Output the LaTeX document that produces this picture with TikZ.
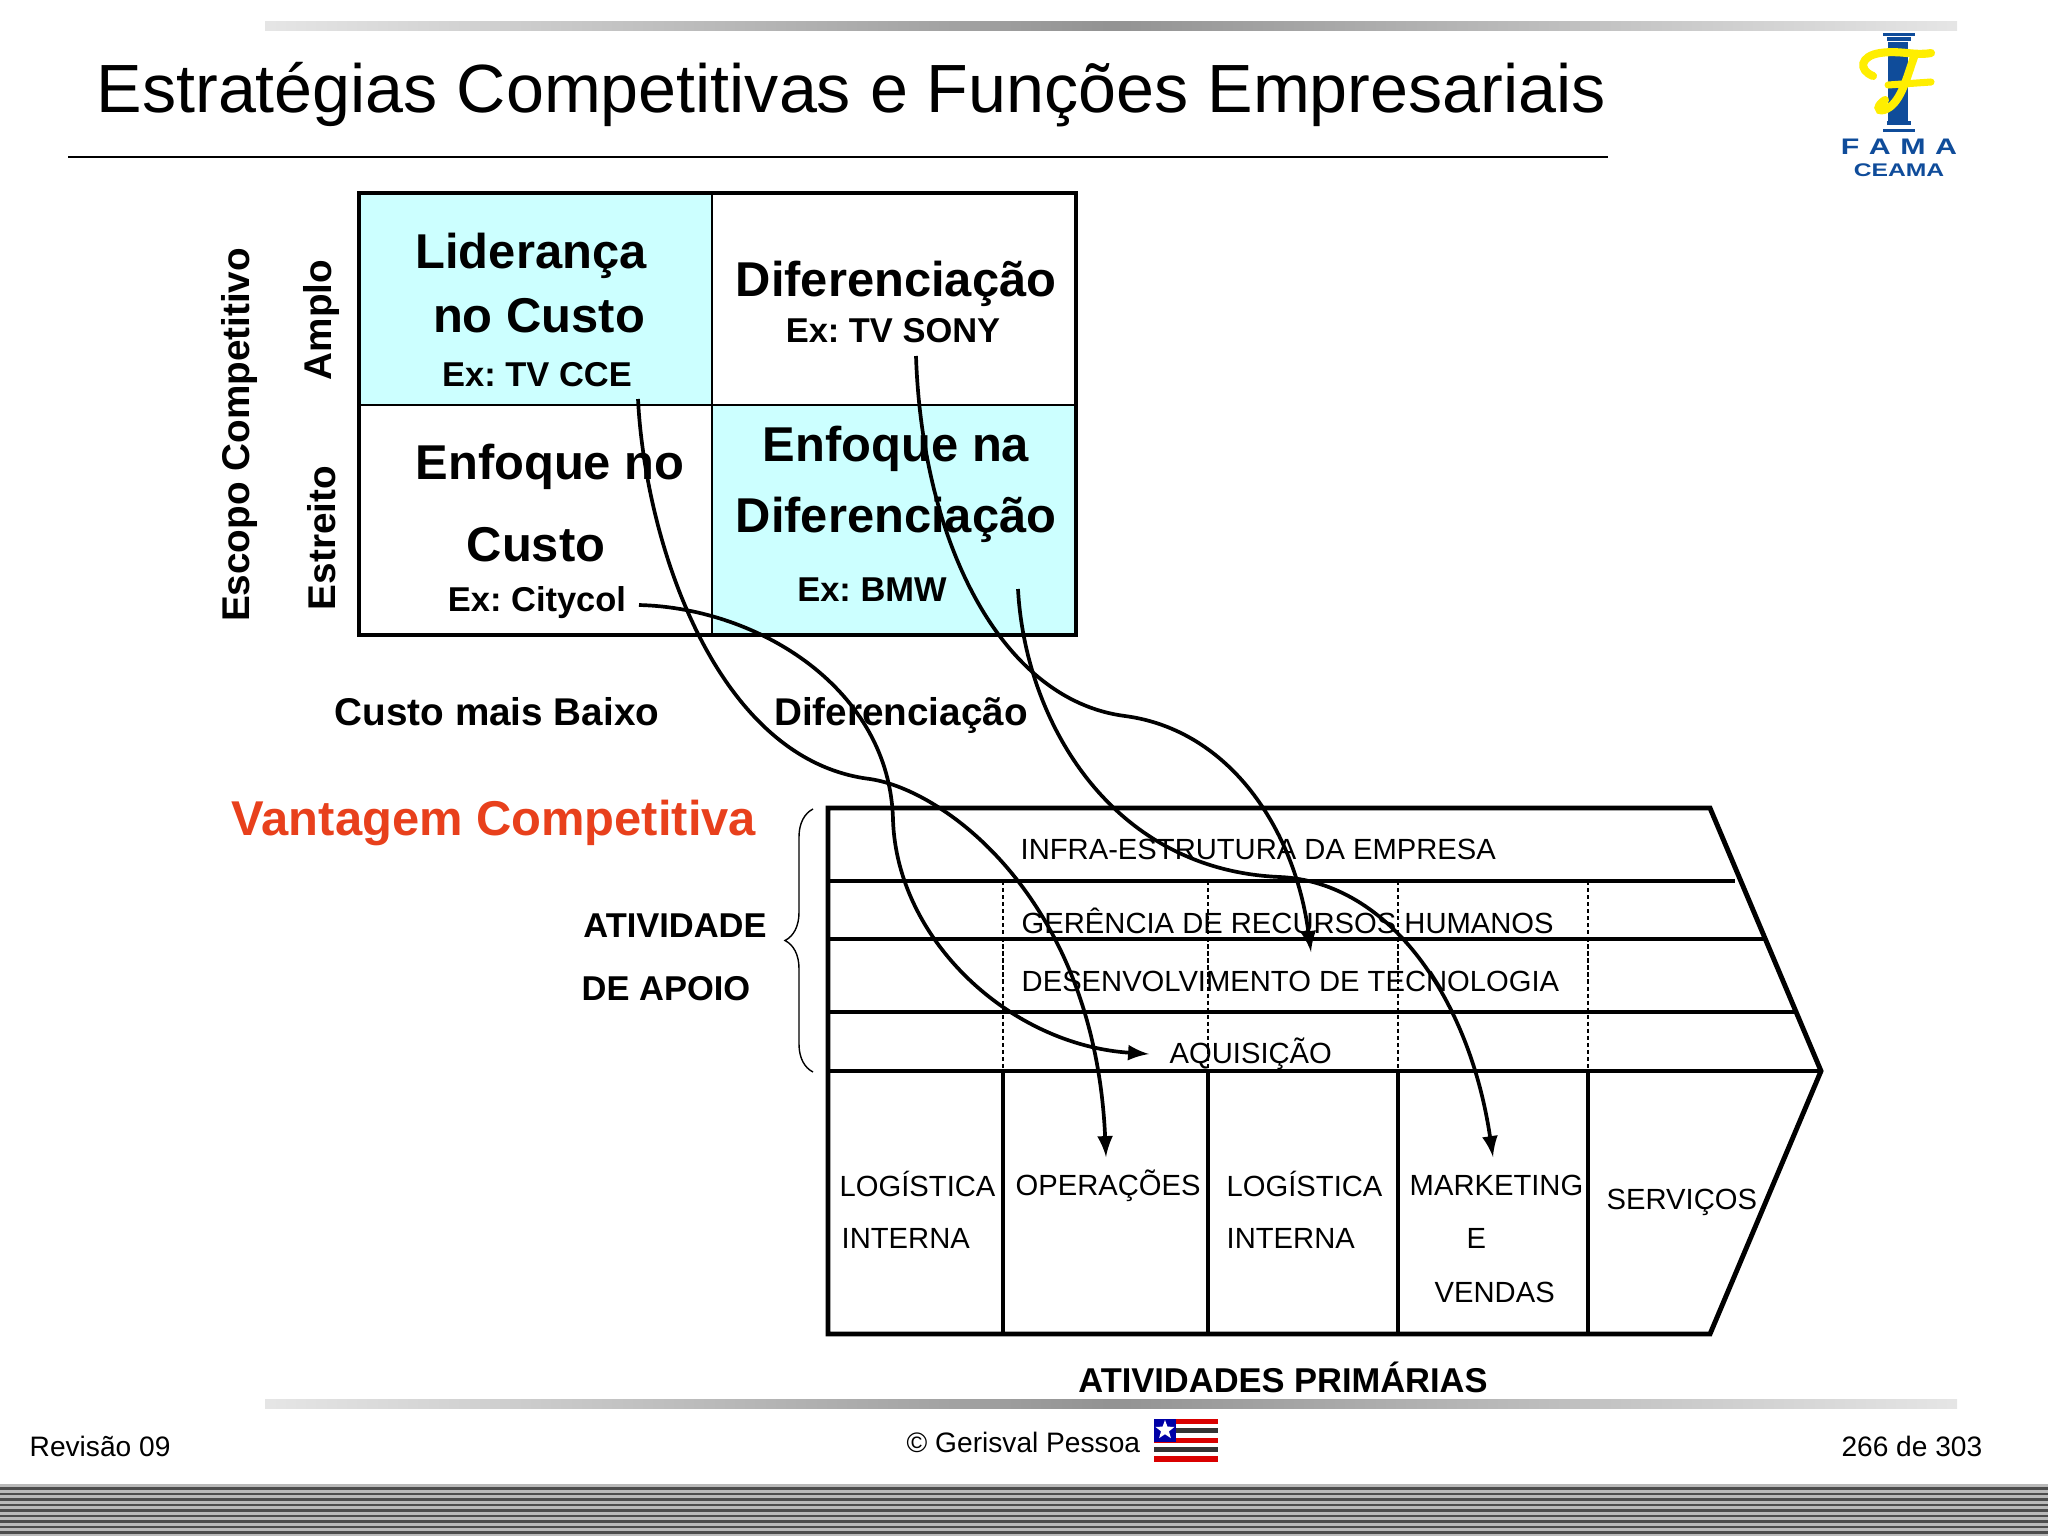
\documentclass[tikz,border=0pt]{standalone}
\usepackage{fontspec}
\setmainfont{Liberation Sans}
\newfontfamily\logofont[FakeStretch=1.35]{Liberation Sans}
\frenchspacing
\usetikzlibrary{arrows}
\usetikzlibrary{shapes.geometric}
\usetikzlibrary{decorations.pathreplacing}
\definecolor{cellcyan}{HTML}{CCFFFF}
\definecolor{famablue}{HTML}{0F4C9A}
\definecolor{famayellow}{HTML}{FFEE00}
\definecolor{vantagem}{HTML}{E8401C}
\tikzset{
  lab/.style={inner sep=0pt,font=\fontsize{#1}{#1}\selectfont\bfseries},
  act/.style={inner sep=0pt,anchor=west,font=\fontsize{8.3}{8.3}\selectfont},
  foot/.style={inner sep=0pt,font=\fontsize{8}{8}\selectfont},
  chainline/.style={line width=1.4pt},
  curva/.style={line width=1.05pt,-latex},
  greybar/.style={left color=gray!20,right color=gray!20,middle color=gray!85,draw=none},
}
\begin{document}
\begin{tikzpicture}[x=0.01cm,y=-0.01cm]
    \useasboundingbox (0,0) rectangle (2048,1536);
    % bars
    \shade[greybar] (265,21) rectangle (1957,30);
    \shade[greybar] (265,1399) rectangle (1957,1408);
    \node[inner sep=0pt,anchor=west,font=\fontsize{19.4}{19.4}\selectfont] (titulo) at (96,95) {Estratégias Competitivas e Funções Empresariais};
    \draw[line width=0.6pt] (68,157) -- (1608,157);
    % logo
    \fill[famablue] (1883,33) rectangle (1915,36);
    \fill[famablue] (1887,37) rectangle (1911,41);
    \fill[famablue] (1888,42) rectangle (1908,124);
    \fill[famablue] (1887,121) rectangle (1911,125);
    \fill[famablue] (1883,129) rectangle (1915,132);
    \draw[famayellow,line width=2.3pt,line cap=round] (1873,76) .. controls (1858,70) and (1860,56) .. (1880,53) .. controls (1900,50) and (1915,56) .. (1931,53);
    \draw[famayellow,line width=2.3pt,line cap=round] (1914,57) .. controls (1906,80) and (1900,105) .. (1884,110) .. controls (1876,112) and (1877,105) .. (1885,100);
    \draw[famayellow,line width=2pt,line cap=round] (1888,85) -- (1931,82);
    \node[inner sep=0pt,text=famablue,font=\logofont\fontsize{6.4}{6.4}\selectfont\bfseries] (fama) at (1899,147) {F\hspace{2.7pt}A\hspace{2.7pt}M\hspace{2.7pt}A};
    \node[inner sep=0pt,text=famablue,font=\logofont\fontsize{5.2}{5.2}\selectfont\bfseries] (ceama) at (1899,170) {CEAMA};
    % matriz
    \fill[cellcyan] (359,193) rectangle (712,405);
    \fill[cellcyan] (712,405) rectangle (1076,635);
    \draw[line width=0.6pt] (712,193) -- (712,635);
    \draw[line width=0.6pt] (359,405) -- (1076,405);
    \draw[line width=1.35pt] (359,193) rectangle (1076,635);
    \node[lab=13.9] (lideranca) at (531,256) {Liderança};
    \node[lab=13.9] (nocusto) at (539,316) {no Custo};
    \node[lab=9.8] (excce) at (537,375) {Ex: TV CCE};
    \node[lab=13.9] (difer) at (896,284) {Diferenciação};
    \node[lab=9.8] (exsony) at (893,331) {Ex: TV SONY};
    \node[lab=13.9] (enfno) at (550,467) {Enfoque no};
    \node[lab=13.9] (custo) at (536,545) {Custo};
    \node[lab=9.8] (excity) at (537,603) {Ex: Citycol};
    \node[lab=13.9] (enfna) at (896,449) {Enfoque na};
    \node[lab=13.9] (difena) at (896,520) {Diferenciação};
    \node[lab=9.8] (exbmw) at (872,590) {Ex: BMW};
    \node[lab=11,rotate=90] (escopo) at (239,435) {Escopo Competitivo};
    \node[lab=11,rotate=90] (amplo) at (321,320) {Amplo};
    \node[lab=11,rotate=90] (estreito) at (322,538) {Estreito};
    \node[lab=11] (custobaixo) at (497,712) {Custo mais Baixo};
    \node[lab=11] (diferbaixo) at (901,715) {Diferenciação};
    \node[lab=13.9,text=vantagem] (vantagemc) at (494,823) {Vantagem Competitiva};
    \node[lab=9.8] (atividade) at (675,926) {ATIVIDADE};
    \node[lab=9.8] (deapoio) at (666,989) {DE APOIO};
    \node[lab=9.8] (primarias) at (1283,1377) {ATIVIDADES PRIMÁRIAS};
    \draw[line width=0.4pt,decorate,decoration={brace,amplitude=0.28cm}] (813,1072) -- (813,809);
    % cadeia
    \draw[chainline] (828,808) -- (1710,808) -- (1821,1071) -- (1710,1334) -- (828,1334) -- cycle;
    \draw[chainline] (828,881) -- (1735,881);
    \draw[chainline] (828,939) -- (1766,939);
    \draw[chainline] (828,1012) -- (1795,1012);
    \draw[chainline] (828,1071) -- (1821,1071);
    \foreach \x in {1003,1208,1398,1588} {
        \draw[chainline] (\x,1071) -- (\x,1334);
        \draw[dash pattern=on 1.2pt off 0.8pt,line width=0.35pt] (\x,881) -- (\x,1071);
    }
    \node[act] (infra) at (1020,849) {INFRA-ESTRUTURA DA EMPRESA};
    \node[act] (gerencia) at (1021,921) {GERÊNCIA DE RECURSOS HUMANOS};
    \node[act] (desenv) at (1021,981) {DESENVOLVIMENTO DE TECNOLOGIA};
    \node[act] (aquisicao) at (1169,1054) {AQUISIÇÃO};
    \node[act] (logi) at (839,1184) {LOGÍSTICA};
    \node[act] (interi) at (841,1238) {INTERNA};
    \node[act] (operacoes) at (1015,1186) {OPERAÇÕES};
    \node[act] (logii) at (1226,1184) {LOGÍSTICA};
    \node[act] (interii) at (1226,1238) {INTERNA};
    \node[act] (marketing) at (1409,1185) {MARKETING};
    \node[act] (mke) at (1466,1238) {E};
    \node[act] (vendas) at (1434,1292) {VENDAS};
    \node[act] (servicos) at (1606,1202) {SERVIÇOS};
    % curvas
    \coordinate (fromcce) at (638,399);
    \coordinate (fromcity) at (639,605);
    \coordinate (fromsony) at (916,356);
    \coordinate (frombmw) at (1018,589);
    \coordinate (tooper) at (1106,1157);
    \coordinate (toaquis) at (1149,1054);
    \coordinate (togerencia) at (1311,952);
    \coordinate (tomkt) at (1493,1157);
    \draw[curva] (fromcce) .. controls (645,540) and (715,760) .. (870,779) .. controls (945,790) and (1095,900) .. (tooper);
    \draw[curva] (fromcity) .. controls (760,608) and (890,690) .. (893,820) .. controls (897,940) and (1010,1045) .. (toaquis);
    \draw[curva] (fromsony) .. controls (922,540) and (1000,700) .. (1125,716) .. controls (1230,730) and (1295,830) .. (togerencia);
    \draw[curva] (frombmw) .. controls (1025,720) and (1110,870) .. (1280,877) .. controls (1390,882) and (1470,1000) .. (tomkt);
    % rodape
    \node[foot,anchor=west] (revisao) at (29,1446) {Revisão 09};
    \node[foot,anchor=west] (autor) at (906,1442) {© Gerisval Pessoa};
    \node[foot,anchor=east] (pagina) at (1983,1446) {266 de 303};
    \fill[red!85!black] (1154,1419) rectangle (1218,1424);
    \fill[black!80] (1154,1428) rectangle (1218,1433);
    \fill[red!85!black] (1154,1438) rectangle (1218,1443);
    \fill[black!80] (1154,1447) rectangle (1218,1452);
    \fill[red!85!black] (1154,1456) rectangle (1218,1462);
    \fill[blue!65!black] (1154,1419) rectangle (1176,1442);
    \node[star,star point ratio=2.4,fill=white,inner sep=0pt,minimum size=0.2cm] (estrela) at (1165,1430) {};
    \fill[gray!55] (0,1484) rectangle (2048,1536);
    \foreach \y in {1487,1492.5,...,1536} {
        \fill[black!70] (0,\y) rectangle (2048,\y+2.5);
    }
\end{tikzpicture}
\end{document}
